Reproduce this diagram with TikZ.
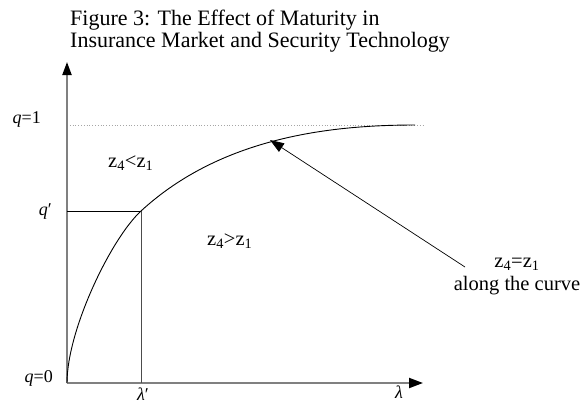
\documentclass[tikz,border=0pt]{standalone}
\usepackage{fontspec}
\setmainfont{Liberation Serif}
\usetikzlibrary{arrows.meta}
\tikzset{
  axis/.style={draw=black!50, line width=2pt},
  thin line/.style={draw=black, line width=0.7pt},
  lbl/.style={inner sep=0pt, font=\fontsize{18}{20}\selectfont},
  zlbl/.style={inner sep=0pt, font=\fontsize{20.5}{22}\selectfont},
  ttl/.style={inner sep=0pt, anchor=base west, font=\fontsize{22}{24}\selectfont},
}
\begin{document}
\begin{tikzpicture}[x=1pt,y=-1pt]
\useasboundingbox[fill=white] (0,0) rectangle (586,410);
% title
\node[ttl] (t1) at (70,25) {Figure 3: The Effect of Maturity in};
\node[ttl] (t2) at (70,47) {Insurance Market and Security Technology};
% coordinates
\coordinate (O) at (67,383);
\coordinate (ytop) at (67,62);
\coordinate (xend) at (423,383);
\coordinate (q1l) at (67,125);
\coordinate (q1r) at (423,125);
\coordinate (P) at (141,211);
\coordinate (qp) at (67,211);
\coordinate (lp) at (141,383);
\coordinate (C) at (415,125);
% q=1 guide line
\draw[draw=black!35, line width=0.8pt, dotted] (q1l) -- (q1r);
% axes
\draw[axis, -{Triangle[length=13pt,width=9pt,color=black]}] (O) -- (ytop);
\draw[axis, -{Triangle[length=14pt,width=10pt,color=black]}] (O) -- (xend);
% q' and lambda' lines
\draw[thin line] (qp) -- (P);
\draw[draw=black!70, line width=0.7pt] (P) -- (lp);
% curve
\draw[thin line, line width=0.9pt] (O) .. controls (67,330) and (111,238.6) .. (P)
  .. controls (221,137.4) and (330,125) .. (C);
% pointer
\coordinate (ptip) at (270,140);
\coordinate (pend) at (465,267);
\draw[thin line, -{Triangle[length=14pt,width=10pt]}] (pend) -- (ptip);
% labels
\node[lbl, anchor=base east] (lq1) at (41,123) {\textit{q}=1};
\node[lbl, anchor=base east] (lqp) at (52,215) {\textit{q}′};
\node[lbl, anchor=base east] (lq0) at (53,382) {\textit{q}=0};
\node[lbl, anchor=base] (llp) at (143,400) {\textit{λ}′};
\node[lbl, anchor=base] (ll) at (399,398) {\textit{λ}};
\node[zlbl, anchor=base west] (zlt) at (108,167) {z\textsubscript{4}<z\textsubscript{1}};
\node[zlbl, anchor=base west] (zgt) at (207,245) {z\textsubscript{4}>z\textsubscript{1}};
\node[zlbl, anchor=base] (zeq) at (517,267) {z\textsubscript{4}=z\textsubscript{1}};
\node[zlbl, anchor=base] (along) at (517,290) {along the curve};
\end{tikzpicture}
\end{document}
